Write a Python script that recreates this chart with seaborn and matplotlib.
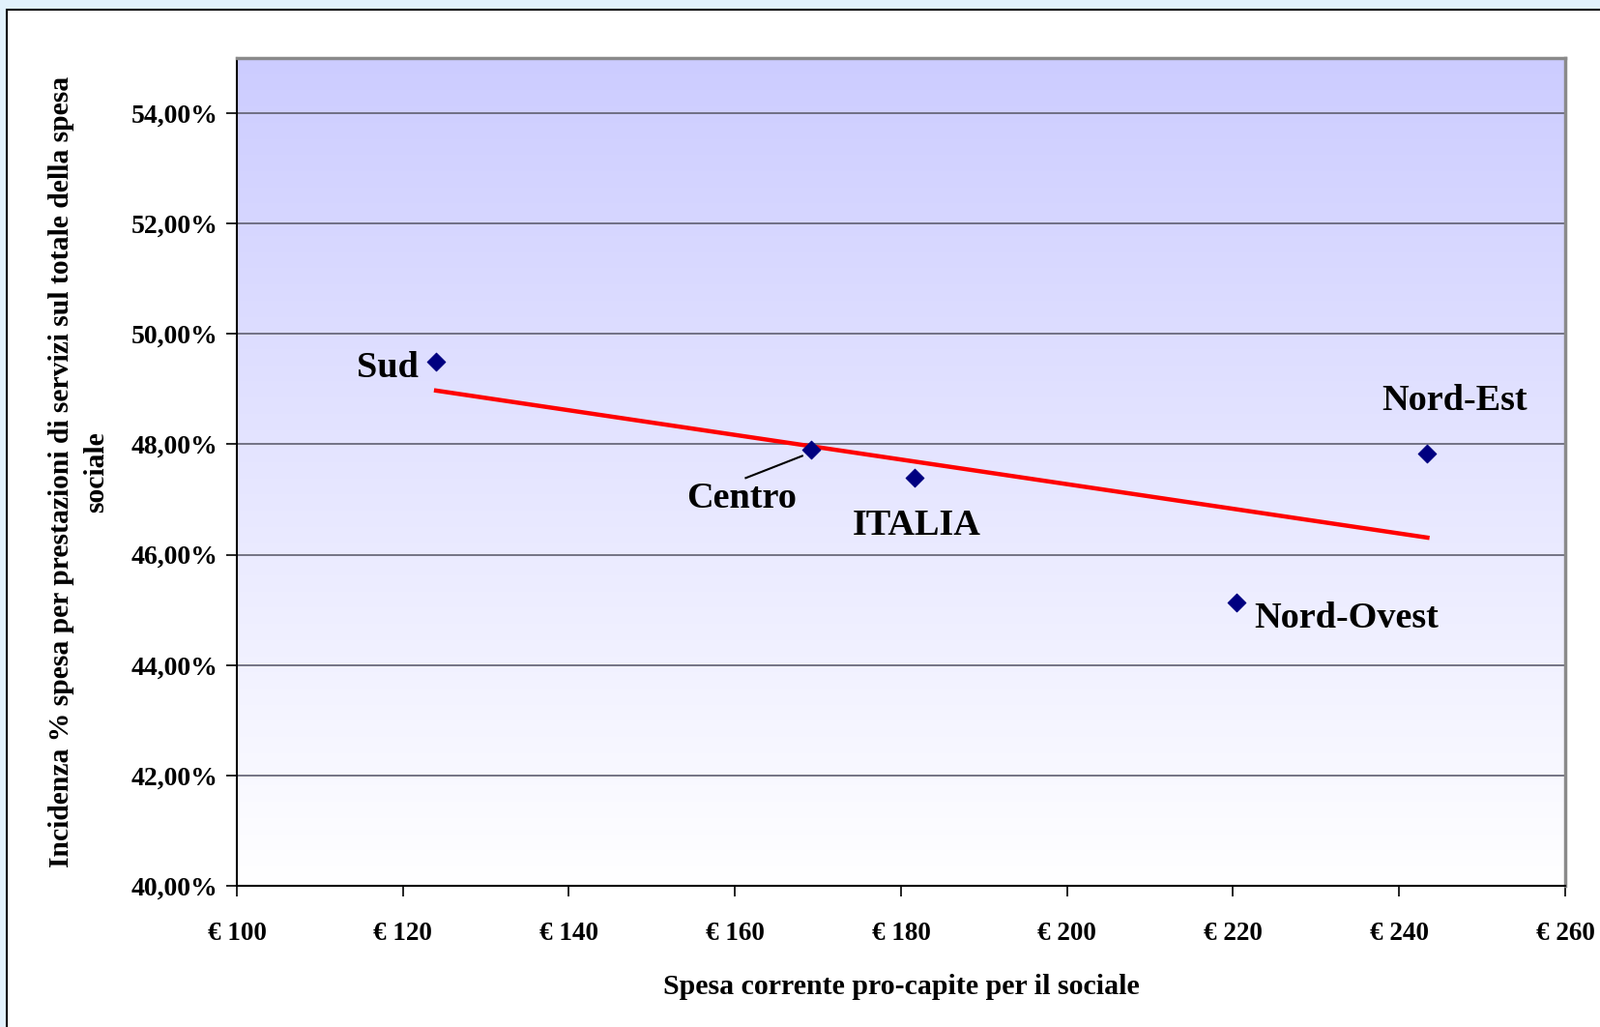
import numpy as np
import pandas as pd
import matplotlib
matplotlib.use("Agg")
import matplotlib.pyplot as plt
import seaborn as sns
from matplotlib.patches import Rectangle
from matplotlib.ticker import FuncFormatter, MultipleLocator

# data
regioni = ["Sud", "Centro", "ITALIA", "Nord-Ovest", "Nord-Est"]
spesa_pro_capite = [124.0, 169.2, 181.6, 220.4, 243.4]
incidenza_servizi = [49.49, 47.90, 47.40, 45.13, 47.84]

df = pd.DataFrame({"regione": regioni, "spesa": spesa_pro_capite, "incidenza": incidenza_servizi})

# where the region names sit (data coords)
label_pos = {
    "Sud": (118.2, 49.38),
    "Centro": (160.8, 47.02),
    "ITALIA": (181.9, 46.53),
    "Nord-Ovest": (233.6, 44.85),
    "Nord-Est": (246.7, 48.79),
}

plt.rcParams["font.family"] = ["Liberation Serif", "DejaVu Serif"]
plt.rcParams["font.weight"] = "bold"

W, H = 1656, 1062
fig = plt.figure(figsize=(W / 100, H / 100), dpi=100, facecolor="#e2f1fc")
# white chart area with black frame (runs off the right/bottom edge)
fig.patches.append(Rectangle((7 / W, -0.05), 1.1, 1 - 10 / H + 0.05, transform=fig.transFigure,
                             facecolor="white", edgecolor="black", lw=1.5, zorder=-5))

ax = fig.add_axes([245 / W, 1 - 916 / H, (1619 - 245) / W, (916 - 60) / H])
ax.set_zorder(2)

# vertical gradient background, lavender at top to white at bottom
grad = np.linspace(0, 1, 256).reshape(-1, 1)
top = np.array([0.80, 0.80, 1.0])
bot = np.array([1.0, 1.0, 1.0])
img = bot + (top - bot) * grad[:, :, None] * np.ones((1, 1, 3))
ax.imshow(img, extent=[100, 260, 40, 55], origin="lower", aspect="auto", zorder=0)

for yv in np.arange(42, 55, 2):
    ax.axhline(yv, color="#5f5f70", lw=1.2, zorder=1)

sns.regplot(data=df, x="spesa", y="incidenza", scatter=False, ci=None, ax=ax,
            line_kws={"color": "#ff0000", "lw": 3.2, "zorder": 3})
sns.scatterplot(data=df, x="spesa", y="incidenza", marker="D", s=90, color="#000080",
                edgecolor="#000080", ax=ax, zorder=4)

for name in regioni:
    lx, ly = label_pos[name]
    ax.text(lx, ly, name, ha="center", va="center", fontsize=27.5, fontweight="bold", zorder=5)
# leader line for Centro
ax.plot([161.3, 168.1], [47.39, 47.79], color="black", lw=1.5, zorder=5)

ax.set_xlim(100, 260)
ax.set_ylim(40, 55)
ax.xaxis.set_major_locator(MultipleLocator(20))
ax.yaxis.set_major_locator(MultipleLocator(2))
ax.xaxis.set_major_formatter(FuncFormatter(lambda v, p: f"€ {v:.0f}"))
ax.yaxis.set_major_formatter(FuncFormatter(lambda v, p: f"{v:.2f}%".replace(".", ",")))
ax.tick_params(axis="both", direction="out", length=8, width=1.2, labelsize=19.5, color="black")
ax.tick_params(axis="y", labelsize=20, pad=6)
ax.tick_params(axis="x", pad=18.5)
for lab in ax.get_xticklabels() + ax.get_yticklabels():
    lab.set_fontweight("bold")

ax.spines["left"].set_color("black")
ax.spines["bottom"].set_color("black")
ax.spines["left"].set_linewidth(1.5)
ax.spines["bottom"].set_linewidth(1.5)
ax.spines["top"].set_color("#8a8a8a")
ax.spines["right"].set_color("#8a8a8a")
ax.spines["top"].set_linewidth(2.5)
ax.spines["right"].set_linewidth(2.5)

ax.set_xlabel("Spesa corrente pro-capite per il sociale", fontsize=21.5, fontweight="bold", labelpad=21)
ax.set_ylabel("Incidenza % spesa per prestazioni di servizi sul totale della spesa\nsociale",
              fontsize=21.3, fontweight="bold", labelpad=16, linespacing=1.45)

fig.savefig("out.png", dpi=100, facecolor=fig.get_facecolor())
